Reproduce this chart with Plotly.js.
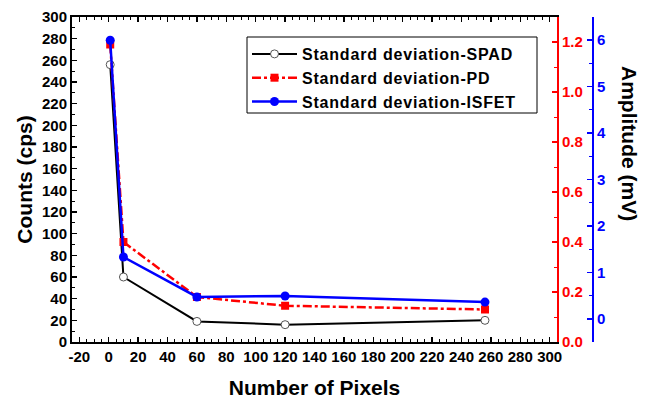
<!DOCTYPE html>
<html>
<head>
<meta charset="utf-8">
<script src="https://cdn.plot.ly/plotly-3.0.1.min.js"></script>
<style>
html,body{margin:0;padding:0;background:#fff;}
#chart{width:645px;height:400px;}
g[class$="tick"] text{font-weight:700 !important;}
.legendtext{font-weight:700 !important;letter-spacing:0.8px;}
</style>
</head>
<body>
<div id="chart"></div>
<script>
const pixels = [1, 10, 60, 120, 256];
const spadCounts = [256, 60, 19, 16, 20];
const pdAmplitude = [1.19, 0.40, 0.18, 0.145, 0.13];
const isfetAmplitude = [6.0, 1.33, 0.47, 0.49, 0.36];
const seriesNames = ['Standard deviation-SPAD', 'Standard deviation-PD', 'Standard deviation-ISFET'];
const xTickVals = [-20, 0, 20, 40, 60, 80, 100, 120, 140, 160, 180, 200, 220, 240, 260, 280, 300];
const xTickLabels = ['-20', '0', '20', '40', '60', '80', '100', '120', '140', '160', '180', '200', '220', '240', '260', '280', '300'];

const FONT = 'Liberation Sans, Arial, sans-serif';
const plotL = 72, plotR = 557, blueX = 593, W = 645, mL = 72, mR = 30;
const plotW = W - mL - mR;
const px2x = (p) => (p - plotL) / plotW;
const px2y = (p) => (342 - p) / 325;

const traces = [
  {x: pixels, y: spadCounts, name: seriesNames[0], type: 'scatter', mode: 'lines+markers',
   line: {color: '#000', width: 2}, marker: {symbol: 'circle', size: 8, color: '#fff', line: {color: '#555', width: 1}}, yaxis: 'y'},
  {x: pixels, y: pdAmplitude, name: seriesNames[1], type: 'scatter', mode: 'lines+markers',
   line: {color: '#ff0000', width: 2.5, dash: 'dashdot'}, marker: {symbol: 'square', size: 8, color: '#ff0000'}, yaxis: 'y2'},
  {x: pixels, y: isfetAmplitude, name: seriesNames[2], type: 'scatter', mode: 'lines+markers',
   line: {color: '#0000ff', width: 2.5}, marker: {symbol: 'circle', size: 9, color: '#0000ff'}, yaxis: 'y3'}
];

const tickFont = (c) => ({family: FONT, size: 15, color: c, weight: 700});

const layout = {
  width: 645, height: 400,
  margin: {l: mL, r: mR, t: 17, b: 58},
  paper_bgcolor: '#fff', plot_bgcolor: '#fff',
  showlegend: true,
  legend: {x: px2x(247), xanchor: 'left', y: px2y(37), yanchor: 'top',
           borderwidth: 0, bgcolor: 'rgba(0,0,0,0)', itemwidth: 45,
           font: {family: FONT, size: 16, color: '#000', weight: 700}, tracegroupgap: 0},
  shapes: [{type: 'rect', xref: 'paper', yref: 'paper', layer: 'above',
            x0: px2x(247), x1: px2x(537), y0: px2y(113), y1: px2y(37),
            line: {color: '#000', width: 1}, fillcolor: 'rgba(0,0,0,0)'}],
  xaxis: {
    domain: [0, (plotR - plotL) / plotW],
    range: [-25, 305], tickmode: 'array', tickvals: xTickVals, ticktext: xTickLabels,
    ticks: 'inside', ticklen: 5, tickwidth: 1.5, tickcolor: '#000',
    minor: {dtick: 5, tick0: 0, ticks: 'inside', ticklen: 3, tickcolor: '#000', tickwidth: 1},
    showline: true, linecolor: '#000', linewidth: 2, mirror: 'ticks',
    showgrid: false, zeroline: false,
    tickfont: tickFont('#000'),
    title: {text: 'Number of Pixels', font: {family: FONT, size: 21, color: '#000', weight: 700}, standoff: 16}
  },
  yaxis: {
    range: [0, 300], dtick: 20,
    ticks: 'inside', ticklen: 5, tickwidth: 1.5, tickcolor: '#000',
    minor: {dtick: 10, ticks: 'inside', ticklen: 3, tickcolor: '#000', tickwidth: 1},
    showline: true, linecolor: '#000', linewidth: 2,
    showgrid: false, zeroline: false,
    tickfont: tickFont('#000'),
    title: {text: 'Counts (cps)', font: {family: FONT, size: 21, color: '#000', weight: 700}, standoff: 4}
  },
  yaxis2: {
    overlaying: 'y', side: 'right', anchor: 'x',
    range: [0, 1.3], dtick: 0.2, tickformat: '.1f',
    ticks: 'inside', ticklen: 5, tickwidth: 1.5, tickcolor: '#ff0000',
    minor: {dtick: 0.1, ticks: 'inside', ticklen: 3, tickcolor: '#ff0000', tickwidth: 1},
    showline: true, linecolor: '#ff0000', linewidth: 2,
    showgrid: false, zeroline: false,
    tickfont: tickFont('#ff0000')
  },
  yaxis3: {
    overlaying: 'y', side: 'right', anchor: 'free', position: (blueX - plotL) / plotW,
    range: [-0.5, 6.5], dtick: 1,
    ticks: 'inside', ticklen: 5, tickwidth: 1.5, tickcolor: '#0000ff',
    minor: {dtick: 0.5, ticks: 'inside', ticklen: 3, tickcolor: '#0000ff', tickwidth: 1},
    showline: true, linecolor: '#0000ff', linewidth: 2,
    showgrid: false, zeroline: false,
    tickfont: tickFont('#0000ff')
  },
  annotations: [{
    text: 'Amplitude (mV)', xref: 'paper', yref: 'paper',
    x: px2x(630), y: px2y(143), xanchor: 'center', yanchor: 'middle',
    textangle: 90, showarrow: false,
    font: {family: FONT, size: 21, color: '#000', weight: 700}
  }]
};

Plotly.newPlot('chart', traces, layout, {displayModeBar: false, staticPlot: true});
</script>
</body>
</html>
